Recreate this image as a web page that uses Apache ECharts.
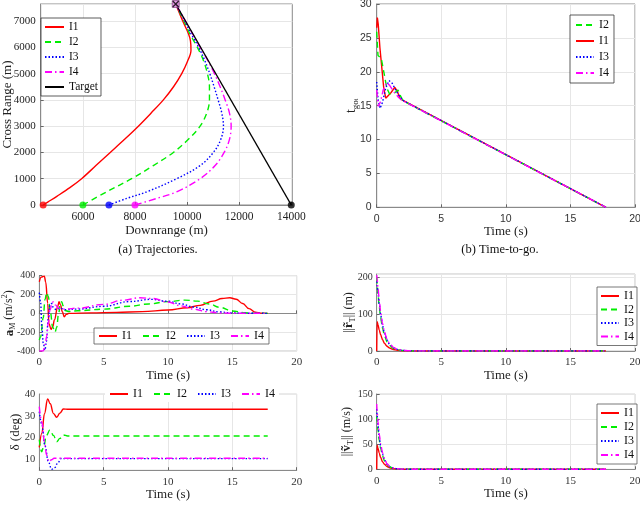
<!DOCTYPE html>
<html><head><meta charset="utf-8">
<script src="https://cdn.jsdelivr.net/npm/echarts@6/dist/echarts.min.js"></script>
<style>html,body{margin:0;padding:0;background:#fff}#c{width:640px;height:518px}</style>
</head><body><div id="c"></div>
<script>
// ---------- data ----------
const seriesNames = ['I1','I2','I3','I4'];
const downrangeTicks = [6000,8000,10000,12000,14000];
// (a) trajectories [downrange, crossrange]
const trajI1 = [[4474,0],[4650,110],[5000,330],[5500,660],[5950,1000],[6500,1500],[7050,2000],[7600,2500],[8130,3000],[8620,3500],[9090,4000],[9480,4500],[9795,5000],[10010,5450],[10150,5890],[10130,6250],[10050,6530],[9833,7000],[9564,7650]];
const trajI2 = [[6000,0],[6910,500],[7872,1000],[8705,1500],[9474,2000],[10051,2500],[10500,3000],[10756,3500],[10859,4000],[10859,4500],[10782,5000],[10628,5500],[10397,6000],[10115,6500],[9884,7000],[9564,7650]];
const trajI3 = [[7000,0],[7680,250],[8449,500],[9600,1000],[10500,1500],[11012,2000],[11295,2500],[11397,3000],[11333,3500],[11192,4000],[11038,4500],[10872,5000],[10679,5500],[10448,6000],[10166,6500],[9910,7000],[9564,7650]];
const trajI4 = [[8000,0],[8833,250],[9600,500],[10500,1000],[11077,1500],[11423,2000],[11628,2500],[11692,3000],[11628,3500],[11462,4000],[11269,4500],[11051,5000],[10795,5500],[10500,6000],[10218,6500],[9936,7000],[9564,7650]];
const trajTarget = [[14000,0],[9564,7650]];
const startPoints = [[4474,0],[6000,0],[7000,0],[8000,0],[14000,0]];
const interceptPoint = [[9564,7650]];
// (b) time-to-go [t, tgo]
const tgoI1 = [[0,26.5],[0.05,28],[0.12,27],[0.25,23.5],[0.4,20.5],[0.55,17.5],[0.7,16.1],[0.85,16.2],[1.1,16.9],[1.4,17.7],[1.6,17.1],[1.8,16.1],[2.0,15.8],[17.75,0]];
const tgoI2 = [[0,25.9],[0.1,22.4],[0.35,22],[0.55,20],[0.78,17.6],[1.0,16.7],[1.15,16.5],[1.4,16.9],[1.65,17.3],[1.85,16.4],[2.05,15.7],[17.75,0]];
const tgoI3 = [[0,18.5],[0.1,16],[0.26,14.6],[0.45,15.5],[0.7,17.6],[0.95,18.7],[1.2,18.3],[1.5,17.2],[1.8,16.3],[2.0,15.8],[17.75,0]];
const tgoI4 = [[0,17.3],[0.13,14.9],[0.3,15.6],[0.5,17.3],[0.75,18.4],[1.0,18.0],[1.35,17.0],[1.7,16.2],[1.95,15.8],[17.75,0]];
// (c) lateral acceleration [t, aM]
const aI1 = [[0,336],[0.15,385],[0.39,396],[0.5,330],[0.65,106],[0.75,-106],[0.91,-170],[1.05,-140],[1.17,-71],[1.43,70],[1.53,123],[1.65,90],[1.79,17],[1.94,-36],[2.1,-10],[2.3,0],[4,5],[6,10],[8,18],[10,35],[11.5,60],[12.5,85],[13.5,130],[14.2,158],[14.8,165],[15.3,150],[15.8,105],[16.3,50],[16.8,12],[17.2,2],[17.75,0]];
const aI2 = [[0,-283],[0.1,-250],[0.3,-50],[0.45,150],[0.57,220],[0.7,180],[0.85,20],[1.05,-150],[1.22,-200],[1.35,-150],[1.5,0],[1.65,110],[1.74,124],[1.85,80],[2.0,30],[2.3,20],[3,28],[5,45],[7,75],[8.5,100],[10,125],[11.3,141],[12.3,130],[13.2,100],[14,65],[15,25],[16,6],[17,1],[17.75,0]];
const aI3 = [[0,220],[0.1,120],[0.2,-150],[0.31,-317],[0.44,-390],[0.55,-300],[0.7,-50],[0.83,90],[0.95,105],[1.1,60],[1.3,40],[1.6,55],[2,40],[3,45],[5,75],[7,125],[8.7,149],[10,128],[11,100],[12,68],[13,38],[14,15],[15,4],[16,1],[17.75,0]];
const aI4 = [[0,-400],[0.3,-400],[0.45,-330],[0.57,-248],[0.7,-100],[0.83,35],[1.0,110],[1.09,123],[1.25,90],[1.5,55],[2,45],[3,55],[5,95],[6.5,140],[7.8,165],[8.8,158],[10,120],[11,80],[12,45],[13,18],[14,4],[15,1],[17.75,0]];
// (c) look angle [t, delta]
const dI1 = [[0,15.5],[0.2,22],[0.4,31],[0.65,37.7],[0.85,35.5],[1.1,31],[1.35,29.3],[1.6,31.2],[1.87,33.1],[2.2,33],[17.75,33]];
const dI2 = [[0,19],[0.18,13.5],[0.35,16],[0.55,21],[0.83,23.5],[1.1,21],[1.35,18.1],[1.6,19.6],[1.87,21.2],[2.2,20.7],[17.75,20.7]];
const dI3 = [[0,31.9],[0.2,26],[0.45,16],[0.7,9],[0.96,5.4],[1.2,6.2],[1.45,8.5],[1.7,10.4],[2.0,10.3],[17.75,10.3]];
const dI4 = [[0,34.2],[0.2,27],[0.4,18],[0.57,11.9],[0.75,8.9],[0.95,9.8],[1.15,10.5],[17.75,10.5]];
// (d) position error norm [t, m]
const rI1 = [[0,0],[0.03,80],[0.1,72],[0.2,57],[0.3,45],[0.45,31],[0.6,21],[0.8,13],[1,8],[1.3,4],[1.6,2],[2,0.8],[2.5,0.2],[3,0],[17.75,0]];
const rI2 = [[0,200],[0.03,185],[0.1,155],[0.2,120],[0.3,92],[0.45,62],[0.6,42],[0.8,25],[1,15],[1.3,7],[1.6,3.5],[2,1.3],[2.5,0.4],[3,0],[17.75,0]];
const rI3 = [[0,190],[0.03,180],[0.1,160],[0.2,128],[0.3,100],[0.45,70],[0.6,48],[0.8,30],[1,18],[1.3,9],[1.6,4.5],[2,1.8],[2.5,0.6],[3,0.1],[17.75,0]];
const rI4 = [[0,207],[0.03,197],[0.1,172],[0.2,138],[0.3,108],[0.45,75],[0.6,52],[0.8,32],[1,20],[1.3,10],[1.6,5],[2,2],[2.5,0.7],[3,0.1],[17.75,0]];
// (d) velocity error norm [t, m/s]
const vI1 = [[0,0],[0.03,48],[0.1,42],[0.2,32],[0.3,24],[0.45,15],[0.6,10],[0.8,5.5],[1,3],[1.3,1.3],[1.6,0.6],[2,0.2],[3,0],[17.75,0]];
const vI2 = [[0,105],[0.03,95],[0.1,78],[0.2,57],[0.3,42],[0.45,27],[0.6,17],[0.8,9],[1,5],[1.3,2],[1.6,0.9],[2,0.3],[3,0],[17.75,0]];
const vI3 = [[0,120],[0.03,108],[0.1,88],[0.2,64],[0.3,47],[0.45,30],[0.6,19],[0.8,10],[1,5.5],[1.3,2.3],[1.6,1],[2,0.35],[3,0],[17.75,0]];
const vI4 = [[0,130],[0.03,117],[0.1,95],[0.2,70],[0.3,51],[0.45,33],[0.6,21],[0.8,11],[1,6],[1.3,2.5],[1.6,1.1],[2,0.4],[3,0],[17.75,0]];

// ---------- styles ----------
const SERIF = "'Liberation Serif','Times New Roman',serif";
const SANS = "'Liberation Sans','DejaVu Sans',sans-serif";
const colors = {I1:'#ff0000', I2:'#00ee00', I3:'#0000ff', I4:'#ff00ff', Target:'#000000'};
const dashes = {I1:'solid', I2:[6,4], I3:[1.5,2], I4:[7,3,1.5,3], Target:'solid'};

const chart = echarts.init(document.getElementById('c'), null, {renderer:'canvas'});

const grids = [
  {left:40.7, top:4, width:251.6, height:201, borderColor:'#8a8a8a'},
  {left:376.7, top:4, width:258.3, height:203.3, borderColor:'#8a8a8a'},
  {left:39.3, top:275.7, width:257.4, height:75.3, borderColor:'#c4c4c4'},
  {left:39.3, top:394, width:257.4, height:76.2, borderColor:'#d4d4d4'},
  {left:376.7, top:274, width:258.3, height:77, borderColor:'#c4c4c4'},
  {left:376.7, top:394, width:258.3, height:75.3, borderColor:'#d4d4d4'}
].map(g => Object.assign({show:true, borderWidth:1, backgroundColor:'transparent', containLabel:false, outerBoundsMode:'none'}, g));

const plain = v => String(v);

function xAx(gi, opts, font, nameGap) {
  return Object.assign({
    type:'value', gridIndex:gi, min:0, max:20, interval:5,
    name:'Time (s)', nameLocation:'middle', nameGap:nameGap,
    nameTextStyle:{fontFamily:SERIF, fontSize:13, color:'#222'},
    axisLine:{show:true, lineStyle:{color:'#8a8a8a'}},
    axisTick:{show:true, inside:true, length:3, lineStyle:{color:'#666'}},
    axisLabel:{fontFamily:font, fontSize:11, color:'#333', margin:6, formatter:plain},
    splitLine:{show:true, lineStyle:{color:'#e6e6e6', width:1}}
  }, opts);
}
function yAx(gi, opts, font, nameGap) {
  return Object.assign({
    type:'value', gridIndex:gi, nameLocation:'middle', nameGap:nameGap, nameRotate:90, nameMoveOverlap:false,
    nameTextStyle:{fontFamily:SERIF, fontSize:13, color:'#222'},
    axisLine:{show:true, lineStyle:{color:'#8a8a8a'}},
    axisTick:{show:true, inside:true, length:3, lineStyle:{color:'#666'}},
    axisLabel:{fontFamily:font, fontSize:11, color:'#333', margin:5, formatter:plain},
    splitLine:{show:true, lineStyle:{color:'#e6e6e6', width:1}}
  }, opts);
}

const xAxes = [
  xAx(0, {min:4380, max:14040, interval:20, name:'Downrange (m)',
    axisTick:{show:true, inside:true, length:3, lineStyle:{color:'#666'}, customValues:downrangeTicks},
    axisLabel:{fontFamily:SERIF, fontSize:11.5, color:'#222', margin:6, customValues:downrangeTicks, formatter:plain}}, SERIF, 16),
  xAx(1, {axisLabel:{fontFamily:SANS, fontSize:10.5, color:'#333', margin:6, formatter:plain}}, SANS, 13),
  xAx(2, {}, SERIF, 17),
  xAx(3, {}, SERIF, 16),
  xAx(4, {}, SERIF, 17),
  xAx(5, {}, SERIF, 17)
];

const yAxes = [
  yAx(0, {min:0, max:7650, interval:1000, name:'Cross Range (m)',
    axisLabel:{fontFamily:SERIF, fontSize:11, color:'#222', margin:5, showMaxLabel:false, formatter:plain}}, SERIF, 27),
  yAx(1, {min:0, max:30, interval:5, name:'{t|t}{s|go}{ss|i}',
    nameTextStyle:{fontFamily:SERIF, fontSize:13, color:'#222',
      rich:{t:{fontFamily:SERIF, fontSize:14, lineHeight:16}, s:{fontFamily:SERIF, fontSize:9, verticalAlign:'bottom', lineHeight:9}, ss:{fontFamily:SERIF, fontSize:7, verticalAlign:'bottom', lineHeight:5}}},
    axisLabel:{fontFamily:SANS, fontSize:10.5, color:'#333', margin:5, formatter:plain}}, SANS, 17),
  yAx(2, {min:-400, max:400, interval:200, name:'{b|a}{s|M} (m/s{p|2})',
    nameTextStyle:{fontFamily:SERIF, fontSize:12, color:'#222',
      rich:{b:{fontFamily:SERIF, fontSize:13, fontWeight:'bold', lineHeight:16}, s:{fontFamily:SERIF, fontSize:8, verticalAlign:'bottom', lineHeight:8}, p:{fontFamily:SERIF, fontSize:8, verticalAlign:'top', lineHeight:8}}},
    axisLabel:{fontFamily:SERIF, fontSize:10, color:'#333', margin:4, formatter:plain}}, SERIF, 22),
  yAx(3, {min:5, max:40, interval:5, name:'δ (deg)',
    axisLabel:{fontFamily:SERIF, fontSize:10.5, color:'#333', margin:4, formatter: v => (v % 10 === 0 ? String(v) : '')},
    axisTick:{show:false}, splitLine:{show:false}}, SERIF, 17),
  yAx(4, {min:0, max:210, interval:100, name:'||{b|r̃}{s|T}|| (m)',
    nameTextStyle:{fontFamily:SERIF, fontSize:12, color:'#222',
      rich:{b:{fontFamily:SERIF, fontSize:13, fontWeight:'bold', lineHeight:16}, s:{fontFamily:SERIF, fontSize:8, verticalAlign:'bottom', lineHeight:8}}},
    axisLabel:{fontFamily:SERIF, fontSize:10, color:'#333', margin:4, showMaxLabel:false, formatter:plain}}, SERIF, 20),
  yAx(5, {min:0, max:150, interval:50, name:'||{b|ṽ}{s|T}|| (m/s)',
    nameTextStyle:{fontFamily:SERIF, fontSize:12, color:'#222',
      rich:{b:{fontFamily:SERIF, fontSize:13, fontWeight:'bold', lineHeight:16}, s:{fontFamily:SERIF, fontSize:8, verticalAlign:'bottom', lineHeight:8}}},
    axisLabel:{fontFamily:SERIF, fontSize:10, color:'#333', margin:4, formatter:plain}}, SERIF, 22)
];

function lineS(name, data, gi, smooth, mono) {
  return {
    type:'line', name:name, data:data, xAxisIndex:gi, yAxisIndex:gi,
    symbol:'none', showSymbol:false, smooth:smooth, smoothMonotone:mono || null,
    clip:true, animation:false,
    lineStyle:{color:colors[name], width:1.4, type:dashes[name]},
    itemStyle:{color:colors[name]}, z:3
  };
}

const series = [];
[trajI1,trajI2,trajI3,trajI4].forEach((d,i)=>series.push(lineS(seriesNames[i], d, 0, 0.35)));
series.push(lineS('Target', trajTarget, 0, false));
series.push({type:'scatter', name:'starts', xAxisIndex:0, yAxisIndex:0, data:startPoints, symbol:'circle', symbolSize:7, clip:false,
  itemStyle:{color:(p)=>[colors.I1,colors.I2,colors.I3,colors.I4,'#000'][p.dataIndex]}, z:5, animation:false});
series.push({type:'scatter', name:'interceptSq', xAxisIndex:0, yAxisIndex:0, data:interceptPoint, symbol:'rect', symbolSize:7, clip:false,
  itemStyle:{color:'#e080e0', borderColor:'#7a3a7a', borderWidth:0.8}, z:5, animation:false});
series.push({type:'scatter', name:'interceptX', xAxisIndex:0, yAxisIndex:0, data:interceptPoint, clip:false,
  symbol:'path://M0,0 L10,10 M10,0 L0,10', symbolSize:6, itemStyle:{color:'none', borderColor:'#000', borderWidth:1.3}, z:6, animation:false});

[tgoI1,tgoI2,tgoI3,tgoI4].forEach((d,i)=>series.push(lineS(seriesNames[i], d, 1, false)));
[aI1,aI2,aI3,aI4].forEach((d,i)=>series.push(lineS(seriesNames[i], d, 2, 0.4, 'x')));
[dI1,dI2,dI3,dI4].forEach((d,i)=>series.push(lineS(seriesNames[i], d, 3, 0.4, 'x')));
[rI1,rI2,rI3,rI4].forEach((d,i)=>series.push(lineS(seriesNames[i], d, 4, 0.3, 'x')));
[vI1,vI2,vI3,vI4].forEach((d,i)=>series.push(lineS(seriesNames[i], d, 5, 0.3, 'x')));

const legText = {fontFamily:SERIF, fontSize:12, color:'#111', lineHeight:12};
const legTextA = {fontFamily:SERIF, fontSize:11.5, color:'#111', lineHeight:11};
const legends = [
  {data:['I1','I2','I3','I4','Target'], orient:'vertical', left:41, top:18, itemWidth:19, itemHeight:10, itemGap:3,
   padding:[3,3,3,3], borderColor:'#333', borderWidth:0.8, backgroundColor:'#fff', textStyle:legTextA},
  {data:['I2','I1','I3','I4'], orient:'vertical', left:570, top:15, itemWidth:18, itemHeight:10, itemGap:4,
   padding:[4,5,4,5], borderColor:'#333', borderWidth:0.8, backgroundColor:'#fff', textStyle:legText},
  {data:['I1','I2','I3','I4'], orient:'horizontal', left:94, top:328, itemWidth:18, itemHeight:8, itemGap:10,
   padding:[2,5,2,4], borderColor:'#555', borderWidth:0.8, backgroundColor:'#fff', textStyle:legText},
  {data:['I1','I2','I3','I4'], orient:'horizontal', left:105, top:386, itemWidth:18, itemHeight:8, itemGap:10,
   padding:[2,4,2,4], borderColor:'transparent', borderWidth:0, backgroundColor:'#fff', textStyle:legText},
  {data:['I1','I2','I3','I4'], orient:'vertical', left:597, top:287, itemWidth:18, itemHeight:8, itemGap:1.5,
   padding:[3,3,3,3], borderColor:'#555', borderWidth:0.8, backgroundColor:'#fff', textStyle:legText},
  {data:['I1','I2','I3','I4'], orient:'vertical', left:597, top:404, itemWidth:18, itemHeight:8, itemGap:2,
   padding:[3,3,3,3], borderColor:'#555', borderWidth:0.8, backgroundColor:'#fff', textStyle:legText}
].map(l => Object.assign({selectedMode:false, itemStyle:{opacity:0, borderWidth:0}}, l));

const captions = [
  {text:'(a) Trajectories.', x:158, y:250},
  {text:'(b) Time-to-go.', x:500, y:250}
];

chart.setOption({
  animation:false,
  backgroundColor:'#fff',
  grid:grids, xAxis:xAxes, yAxis:yAxes, series:series, legend:legends,
  graphic: captions.map(c => ({type:'text', x:c.x, y:c.y,
    style:{text:c.text, fontFamily:SERIF, fontSize:12.5, fill:'#111', textAlign:'center', textVerticalAlign:'middle'}}))
});
</script></body></html>
